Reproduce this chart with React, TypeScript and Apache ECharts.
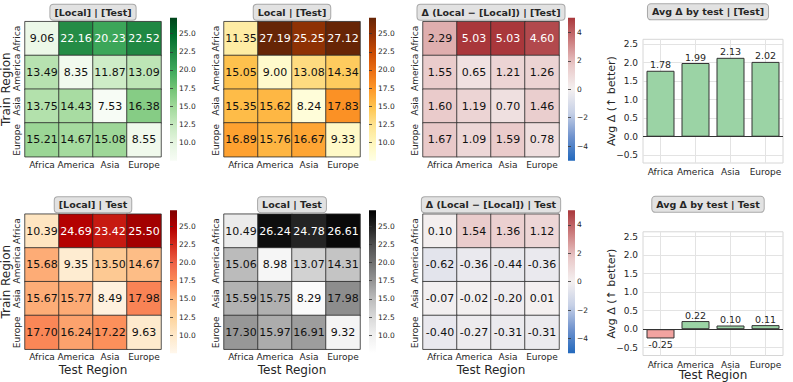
import React, { useEffect, useRef } from 'react';
import * as echarts from 'echarts';

const regions = ['Africa', 'America', 'Asia', 'Europe'];

// rows = train region, columns = test region
const bracketLocalBracketTest = [
  [9.06, 22.16, 20.23, 22.52],
  [13.49, 8.35, 11.87, 13.09],
  [13.75, 14.43, 7.53, 16.38],
  [15.21, 14.67, 15.08, 8.55],
];
const localBracketTest = [
  [11.35, 27.19, 25.25, 27.12],
  [15.05, 9.0, 13.08, 14.34],
  [15.35, 15.62, 8.24, 17.83],
  [16.89, 15.76, 16.67, 9.33],
];
const deltaBracketTest = [
  [2.29, 5.03, 5.03, 4.6],
  [1.55, 0.65, 1.21, 1.26],
  [1.6, 1.19, 0.7, 1.46],
  [1.67, 1.09, 1.59, 0.78],
];
const bracketLocalTest = [
  [10.39, 24.69, 23.42, 25.5],
  [15.68, 9.35, 13.5, 14.67],
  [15.67, 15.77, 8.49, 17.98],
  [17.7, 16.24, 17.22, 9.63],
];
const localTest = [
  [10.49, 26.24, 24.78, 26.61],
  [15.06, 8.98, 13.07, 14.31],
  [15.59, 15.75, 8.29, 17.98],
  [17.3, 15.97, 16.91, 9.32],
];
const deltaTest = [
  [0.1, 1.54, 1.36, 1.12],
  [-0.62, -0.36, -0.44, -0.36],
  [-0.07, -0.02, -0.2, 0.01],
  [-0.4, -0.27, -0.31, -0.31],
];
const avgDeltaBracketTest = [1.78, 1.99, 2.13, 2.02];
const avgDeltaTest = [-0.25, 0.22, 0.1, 0.11];

const absMin = 7.53;
const absMax = 27.19;
const deltaMax = 5.03;
const absTicks = [10, 12.5, 15, 17.5, 20, 22.5, 25];
const deltaTicks = [-4, -2, 0, 2, 4];
const barTicks = [-0.5, 0, 0.5, 1, 1.5, 2, 2.5];
const barMin = -0.71;
const barMax = 2.63;

const GREENS = ['#f7fcf5', '#e5f5e0', '#c7e9c0', '#a1d99b', '#74c476', '#41ab5d', '#238b45', '#006d2c', '#00441b'];
const YLORBR = ['#ffffe5', '#fff7bc', '#fee391', '#fec44f', '#fe9929', '#ec7014', '#cc4c02', '#993404', '#662506'];
const ORRD = ['#fff7ec', '#fee8c8', '#fdd49e', '#fdbb84', '#fc8d59', '#ef6548', '#d7301f', '#b30000', '#7f0000'];
const GREYS = ['#ffffff', '#f0f0f0', '#d9d9d9', '#bdbdbd', '#969696', '#737373', '#525252', '#252525', '#000000'];
const VLAG = ['#2369bd', '#6f92cd', '#c6d0e6', '#f4f0f0', '#e9c9c9', '#cd7f80', '#a9373b'];

const FONT = '"DejaVu Sans", sans-serif';
const TXT = '#262626';

const HEAT_LEFTS = [25, 224, 423];
const ROW_TOPS = [21.7, 214.2];
const HEAT_W = 136;
const HEAT_H = 135;
const BAR_LEFT = 643;
const BAR_W = 140;
const BAR_TOPS = [39.3, 231.8];
const BAR_H = 123.7;

const fmtAbs = (v: number) => v.toFixed(1);
const fmtDelta = (v: number) => (v < 0 ? '\u2212' : '') + Math.abs(v).toFixed(0);
const fmtBar = (v: number) => (v < 0 ? '\u2212' : '') + Math.abs(v).toFixed(1);

const panels = [
  { title: '[Local] | [Test]', data: bracketLocalBracketTest, cmap: GREENS, min: absMin, max: absMax, ticks: absTicks, fmt: fmtAbs, white: 19 },
  { title: 'Local | [Test]', data: localBracketTest, cmap: YLORBR, min: absMin, max: absMax, ticks: absTicks, fmt: fmtAbs, white: 20 },
  { title: 'Δ (Local \u2212 [Local]) | [Test]', data: deltaBracketTest, cmap: VLAG, min: -deltaMax, max: deltaMax, ticks: deltaTicks, fmt: fmtDelta, white: 4 },
  { title: '[Local] | Test', data: bracketLocalTest, cmap: ORRD, min: absMin, max: absMax, ticks: absTicks, fmt: fmtAbs, white: 20 },
  { title: 'Local | Test', data: localTest, cmap: GREYS, min: absMin, max: absMax, ticks: absTicks, fmt: fmtAbs, white: 20 },
  { title: 'Δ (Local \u2212 [Local]) | Test', data: deltaTest, cmap: VLAG, min: -deltaMax, max: deltaMax, ticks: deltaTicks, fmt: fmtDelta, white: 4 },
];

const bars = [
  { title: 'Avg Δ by test | [Test]', data: avgDeltaBracketTest },
  { title: 'Avg Δ by test | Test', data: avgDeltaTest },
];

function titleBox(text: string, cx: number, cy: number) {
  return {
    type: 'text',
    x: cx,
    y: cy,
    silent: true,
    z: 10,
    style: {
      text,
      align: 'center',
      verticalAlign: 'middle',
      fontFamily: FONT,
      fontWeight: 'bold',
      fontSize: 9.5,
      fill: TXT,
      backgroundColor: '#e2e2e2',
      borderColor: '#a8a8a8',
      borderWidth: 1,
      borderRadius: 3,
      padding: [3, 4, 2, 4],
    },
  };
}

function buildOption() {
  const grid: any[] = [];
  const xAxis: any[] = [];
  const yAxis: any[] = [];
  const series: any[] = [];
  const visualMap: any[] = [];
  const graphic: any[] = [];

  panels.forEach((p, i) => {
    const row = Math.floor(i / 3);
    const col = i % 3;
    const left = HEAT_LEFTS[col];
    const top = ROW_TOPS[row];
    const gi = grid.length;
    grid.push({ left, top, width: HEAT_W, height: HEAT_H, outerBoundsMode: 'none', containLabel: false });
    xAxis.push({
      type: 'category',
      gridIndex: gi,
      data: regions,
      axisLine: { show: false },
      axisTick: { show: false },
      splitLine: { show: false },
      axisLabel: { fontSize: 9, color: TXT, fontFamily: FONT, margin: 3, interval: 0, lineHeight: 10 },
      name: row === 1 ? 'Test Region' : '',
      nameLocation: 'middle',
      nameGap: 14,
      nameMoveOverlap: false,
      nameTextStyle: { fontSize: 12, color: TXT, fontFamily: FONT, lineHeight: 13 },
    });
    yAxis.push({
      type: 'category',
      gridIndex: gi,
      data: regions,
      inverse: true,
      axisLine: { show: false },
      axisTick: { show: false },
      splitLine: { show: false },
      axisLabel: { fontSize: 9, color: TXT, fontFamily: FONT, margin: 3, rotate: 90, interval: 0, lineHeight: 10 },
      name: col === 0 ? 'Train Region' : '',
      nameLocation: 'middle',
      nameGap: 13,
      nameMoveOverlap: false,
      nameTextStyle: { fontSize: 12, color: TXT, fontFamily: FONT, lineHeight: 13 },
    });
    const sIdx = series.length;
    const cells: any[] = [];
    p.data.forEach((rowVals, r) => {
      rowVals.forEach((v, c) => {
        cells.push({ value: [c, r, v], label: { color: v > p.white ? '#ffffff' : '#111111' } });
      });
    });
    series.push({
      type: 'heatmap',
      xAxisIndex: gi,
      yAxisIndex: gi,
      data: cells,
      itemStyle: { borderColor: '#2a2a2a', borderWidth: 0.8 },
      label: {
        show: true,
        fontSize: 11,
        fontFamily: FONT,
        formatter: (q: any) => q.value[2].toFixed(2),
      },
      emphasis: { disabled: true },
    });
    visualMap.push({
      type: 'continuous',
      show: false,
      seriesIndex: sIdx,
      dimension: 2,
      min: p.min,
      max: p.max,
      inRange: { color: p.cmap },
    });
    // colorbar
    const cbLeft = left + 145;
    const cbTop = top - 4;
    const cgi = grid.length;
    grid.push({ left: cbLeft, top: cbTop, width: 7, height: 143, outerBoundsMode: 'none', containLabel: false });
    xAxis.push({ type: 'value', gridIndex: cgi, show: false, min: 0, max: 1 });
    yAxis.push({
      type: 'value',
      gridIndex: cgi,
      position: 'right',
      min: p.min,
      max: p.max,
      axisLine: { show: false },
      splitLine: { show: false },
      axisTick: { show: true, length: 3, lineStyle: { color: '#333', width: 0.8 }, customValues: p.ticks },
      axisLabel: { customValues: p.ticks, formatter: p.fmt, fontSize: 7.5, color: TXT, fontFamily: FONT, margin: 2 },
    });
    const n = p.cmap.length;
    graphic.push({
      type: 'rect',
      silent: true,
      z: 0,
      shape: { x: cbLeft, y: cbTop, width: 7, height: 143 },
      style: {
        fill: new echarts.graphic.LinearGradient(0, 1, 0, 0, p.cmap.map((c, k) => ({ offset: k / (n - 1), color: c }))),
      },
    });
    graphic.push(titleBox(p.title, left + HEAT_W / 2, top - 9.5));
  });

  bars.forEach((b, j) => {
    const gi = grid.length;
    const top = BAR_TOPS[j];
    grid.push({
      left: BAR_LEFT,
      top,
      width: BAR_W,
      height: BAR_H,
      show: true,
      borderColor: '#d6d6d6',
      borderWidth: 1,
      backgroundColor: 'transparent',
      outerBoundsMode: 'none',
      containLabel: false,
    });
    xAxis.push({
      type: 'category',
      gridIndex: gi,
      data: regions,
      axisLine: { show: false },
      axisTick: { show: false, alignWithLabel: true },
      splitLine: { show: true, alignWithLabel: true, lineStyle: { color: '#e3e3e3', width: 1 } },
      axisLabel: { fontSize: 9, color: TXT, fontFamily: FONT, margin: 4, interval: 0, lineHeight: 10 },
      name: j === 1 ? 'Test Region' : '',
      nameLocation: 'middle',
      nameGap: 13,
      nameMoveOverlap: false,
      nameTextStyle: { fontSize: 12, color: TXT, fontFamily: FONT, lineHeight: 13 },
    });
    yAxis.push({
      type: 'value',
      gridIndex: gi,
      min: barMin,
      max: barMax,
      axisLine: { show: false },
      axisTick: { show: false, customValues: barTicks },
      axisLabel: { customValues: barTicks, formatter: fmtBar, fontSize: 9, color: TXT, fontFamily: FONT, margin: 5 },
      splitLine: { show: true, lineStyle: { color: '#e3e3e3', width: 1 } },
      name: 'Avg Δ (↑ better)',
      nameLocation: 'middle',
      nameGap: 26,
      nameMoveOverlap: false,
      nameTextStyle: { fontSize: 11, color: TXT, fontFamily: FONT },
    });
    series.push({
      type: 'bar',
      xAxisIndex: gi,
      yAxisIndex: gi,
      barWidth: '80%',
      data: b.data.map((v) => ({
        value: v,
        itemStyle: { color: v >= 0 ? '#9bd3a5' : '#f2a3a0' },
        label: { position: v >= 0 ? 'top' : 'bottom' },
      })),
      itemStyle: { borderColor: '#333333', borderWidth: 1 },
      label: {
        show: true,
        distance: 1,
        fontSize: 9.5,
        color: TXT,
        fontFamily: FONT,
        formatter: (q: any) => q.value.toFixed(2),
      },
      emphasis: { disabled: true },
      markLine: {
        silent: true,
        symbol: 'none',
        label: { show: false },
        lineStyle: { color: '#333333', width: 1.2, type: 'solid' },
        data: [{ yAxis: 0 }],
      },
    });
    graphic.push(titleBox(b.title, 708, top - 27.5));
  });

  return {
    animation: false,
    textStyle: { fontFamily: FONT },
    grid,
    xAxis,
    yAxis,
    series,
    visualMap,
    graphic,
  };
}

export default function App() {
  const ref = useRef<HTMLDivElement>(null);
  useEffect(() => {
    if (!ref.current) return;
    const chart = echarts.init(ref.current, undefined, { renderer: 'svg' });
    chart.setOption(buildOption() as any);
    return () => chart.dispose();
  }, []);
  return (
    <div
      ref={ref}
      style={{ position: 'fixed', left: 0, top: 0, width: 793, height: 382, background: '#ffffff' }}
    />
  );
}
